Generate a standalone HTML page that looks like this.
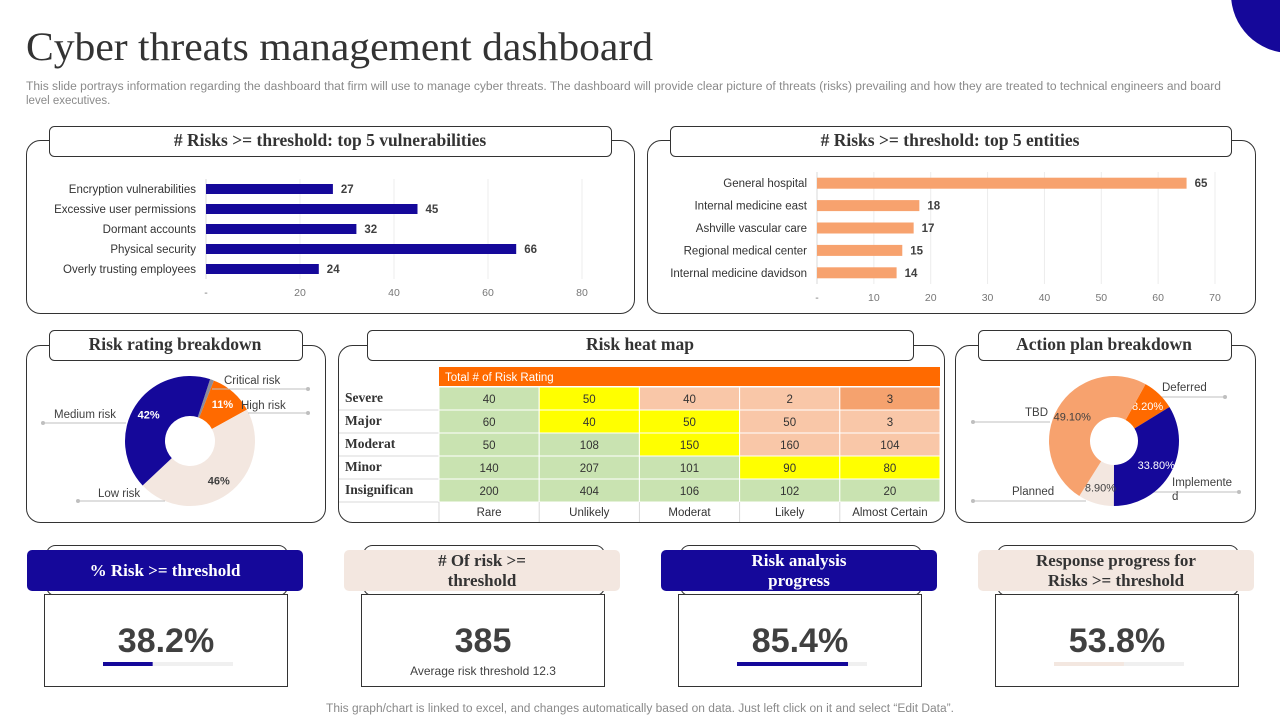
<!DOCTYPE html>
<html><head><meta charset="utf-8"><style>
html,body{margin:0;padding:0;background:#fff;}
svg{display:block;font-family:"Liberation Sans",sans-serif;}
.ser{font-family:"Liberation Serif",serif;font-weight:bold;}
</style></head><body>
<svg id="s" width="1280" height="720" viewBox="0 0 1280 720">
<circle cx="1290" cy="-6" r="59" fill="#15089A"/>
<text x="26" y="60" font-family="Liberation Serif,serif" font-size="40" fill="#333" textLength="627" lengthAdjust="spacingAndGlyphs">Cyber threats management dashboard</text>
<text x="26" y="90" font-size="11.5" fill="#8a8a8a" textLength="1195" lengthAdjust="spacingAndGlyphs">This slide portrays information regarding the dashboard that firm will use to manage cyber threats. The dashboard will provide clear picture of threats (risks) prevailing and how they are treated to technical engineers and board</text>
<text x="26" y="104" font-size="11.5" fill="#8a8a8a">level executives.</text>

<g fill="#fff" stroke="#333" stroke-width="1">
<rect x="26.5" y="140.5" width="608" height="173" rx="14"/>
<rect x="647.5" y="140.5" width="608" height="173" rx="14"/>
<rect x="26.5" y="345.5" width="299" height="177" rx="14"/>
<rect x="338.5" y="345.5" width="606" height="177" rx="14"/>
<rect x="955.5" y="345.5" width="300" height="177" rx="14"/>
<rect x="49.5" y="126.5" width="562" height="30" rx="5"/>
<rect x="670.5" y="126.5" width="561" height="30" rx="5"/>
<rect x="49.5" y="330.5" width="253" height="30" rx="5"/>
<rect x="367.5" y="330.5" width="546" height="30" rx="5"/>
<rect x="978.5" y="330.5" width="253" height="30" rx="5"/>
</g>
<g class="ser" font-size="17.5" fill="#333" text-anchor="middle">
<text x="330" y="146"># Risks &gt;= threshold: top 5 vulnerabilities</text>
<text x="950" y="146"># Risks &gt;= threshold: top 5 entities</text>
<text x="175" y="350">Risk rating breakdown</text>
<text x="640" y="350">Risk heat map</text>
<text x="1104" y="350">Action plan breakdown</text>
</g>
<g id="bars1"></g><g id="bars2"></g><g id="heat"></g><g id="d1"></g><g id="d2"></g><g id="kpi"></g>
<text x="640" y="712" text-anchor="middle" font-size="11.5" fill="#8a8a8a" textLength="628" lengthAdjust="spacingAndGlyphs">This graph/chart is linked to excel,  and changes automatically based on data. Just left click on it and select “Edit Data”.</text>
</svg>
<script>
const vulnCats=["Encryption vulnerabilities","Excessive user permissions","Dormant accounts","Physical security","Overly trusting employees"];
const vulnVals=[27,45,32,66,24];
const vulnTicks=["-","20","40","60","80"];
const entCats=["General hospital","Internal medicine east","Ashville vascular care","Regional medical center","Internal medicine davidson"];
const entVals=[65,18,17,15,14];
const entTicks=["-","10","20","30","40","50","60","70"];
const heatRows=["Severe","Major","Moderat","Minor","Insignifican"];
const heatCols=["Rare","Unlikely","Moderat","Likely","Almost Certain"];
const heatVals=[[40,50,40,2,3],[60,40,50,50,3],[50,108,150,160,104],[140,207,101,90,80],[200,404,106,102,20]];
const heatLevels=[["g","y","o","o","d"],["g","y","y","o","o"],["g","g","y","o","o"],["g","g","g","y","y"],["g","g","g","g","g"]];
const ratingCats=["Critical risk","High risk","Low risk","Medium risk"];
const ratingVals=[1,11,46,42];
const ratingLabels=["","11%","46%","42%"];
const planCats=["Deferred","Implemented","Planned","TBD"];
const planVals=[8.2,33.8,8.9,49.1];
const kpiTitles=[["% Risk >= threshold"],["# Of risk >=","threshold"],["Risk analysis","progress"],["Response progress for","Risks >= threshold"]];
const kpiValues=["38.2%","385","85.4%","53.8%"];
const kpiProgress=[38.2,null,85.4,53.8];

const NS="http://www.w3.org/2000/svg";
function mk(p,tag,at,txt){const e=document.createElementNS(NS,tag);for(const k in at)e.setAttribute(k,at[k]);if(txt!=null)e.textContent=txt;p.appendChild(e);return e;}

function barChart(gid,cats,vals,ticks,max,x0,x1,yTop,yBot,labelY,color,barH,nm){
  const g=document.getElementById(gid);
  const xs=v=>x0+(x1-x0)*v/max;
  const step=max/(ticks.length-1);
  ticks.forEach((t,i)=>{
    const l=mk(g,"line",{x1:xs(i*step),x2:xs(i*step),y1:yTop,y2:yBot,stroke:"#ececec"});
    
    
    const tx=mk(g,"text",{x:xs(i*step),y:labelY,"text-anchor":"middle","font-size":"10.5",fill:"#777"},t);
    
    
  });
  const ax=mk(g,"line",{x1:x0,x2:x0,y1:yTop,y2:yBot,stroke:"#d9d9d9"});
  
  
  const band=(yBot-yTop)/cats.length;
  cats.forEach((c,i)=>{
    const cy=yTop+band*(i+0.5);
    const r=mk(g,"rect",{x:x0,y:cy-barH/2,width:xs(vals[i])-x0,height:barH,fill:color});
    
    
    const lb=mk(g,"text",{x:x0-10,y:cy+4,"text-anchor":"end","font-size":"11.5",fill:"#333"},c);
    
    
    const vl=mk(g,"text",{x:xs(vals[i])+8,y:cy+4,"font-size":"11.5","font-weight":"bold",fill:"#404040"},vals[i]);
    
    
  });
}
barChart("bars1",vulnCats,vulnVals,vulnTicks,80,206,582,179,279,296,"#15089A",10,"vulnerability");
barChart("bars2",entCats,entVals,entTicks,70,817,1215,172,284,301,"#F7A26E",11,"entity");

// heat map
(function(){
  const g=document.getElementById("heat");
  const colors={g:"#C9E3B1",y:"#FFFF00",o:"#F9C7A8",d:"#F5A26E"};
  const x0=439,cw=100.2,y0=387,rh=23;
  const hb=mk(g,"rect",{x:x0,y:367,width:501,height:19,fill:"#FF6A00"});
  
  
  const ht=mk(g,"text",{x:445,y:381,"font-size":"11.5",fill:"#fff"},"Total # of Risk Rating");
  
  
  heatRows.forEach((r,i)=>{
    const y=y0+i*rh;
    const bl=mk(g,"line",{x1:339,x2:439,y1:y+rh,y2:y+rh,stroke:"#d9d9d9"});
    
    
    const rl=mk(g,"text",{x:345,y:y+15,"font-size":"13.5","font-family":"Liberation Serif,serif","font-weight":"bold",fill:"#333"},r);
    
    
    heatCols.forEach((c,j)=>{
      const cell=mk(g,"rect",{x:x0+j*cw,y:y,width:cw,height:rh,fill:colors[heatLevels[i][j]],stroke:"#fff","stroke-width":"1"});
      
      
      const ct=mk(g,"text",{x:x0+j*cw+cw/2,y:y+16,"text-anchor":"middle","font-size":"11.5",fill:"#333"},heatVals[i][j]);
      
      
    });
  });
  heatCols.forEach((c,j)=>{
    const yb=y0+5*rh;
    const dl=mk(g,"line",{x1:x0+j*cw,x2:x0+j*cw,y1:yb,y2:yb+20,stroke:"#d9d9d9"});
    
    
    const cl=mk(g,"text",{x:x0+j*cw+cw/2,y:yb+14,"text-anchor":"middle","font-size":"11.5",fill:"#333"},c);
    
    
  });
})();

function arcPath(cx,cy,R,r,a0,a1){
  const p=(rad,a)=>[cx+rad*Math.sin(a),cy-rad*Math.cos(a)];
  const lg=(a1-a0)>Math.PI?1:0;
  const [x1,y1]=p(R,a0),[x2,y2]=p(R,a1),[x3,y3]=p(r,a1),[x4,y4]=p(r,a0);
  return `M${x1},${y1}A${R},${R} 0 ${lg} 1 ${x2},${y2}L${x3},${y3}A${r},${r} 0 ${lg} 0 ${x4},${y4}Z`;
}
function donut(gid,vals,colors,labels,labelColors,startDeg,cx,cy,R,r,nm){
  const g=document.getElementById(gid);
  const tot=vals.reduce((a,b)=>a+b,0);
  let a=startDeg*Math.PI/180;
  vals.forEach((v,i)=>{
    const da=v/tot*2*Math.PI;
    const p=mk(g,"path",{d:arcPath(cx,cy,R,r,a,a+da),fill:colors[i]});
    
    
    if(labels[i]){
      const m=a+da/2,lr=(R+r)/2+4;
      const t=mk(g,"text",{x:cx+lr*Math.sin(m),y:cy-lr*Math.cos(m)+4,"text-anchor":"middle","font-size":"11",fill:labelColors[i]},labels[i]);
      
      
    }
    a+=da;
  });
}
donut("d1",ratingVals,["#8c8c9c","#FF6A00","#F3E7E0","#15089A"],ratingLabels,["#fff","#fff","#404040","#fff"],18,190,441,65,25,"rating");
document.querySelectorAll("#d1 text").forEach(t=>t.setAttribute("font-weight","bold"));
const planLabels=planVals.map(v=>v.toFixed(2)+"%");
donut("d2",planVals,["#FF6A00","#15089A","#F3E7E0","#F7A26E"],planLabels,["#fff","#fff","#404040","#404040"],29,1114,441,65,24,"plan");

(function(){
  const g=document.getElementById("d1");
  const items=[["Critical risk",224,384,[[212,389],[308,389]],308,389],["High risk",241,409,[[248,413],[308,413]],308,413],["Medium risk",54,418,[[43,423],[126,423]],43,423],["Low risk",98,497,[[78,501],[165,501]],78,501],
    ["Deferred",1162,391,[[1158,397],[1225,397]],1225,397],["TBD",1025,416,[[973,422],[1050,422]],973,422],["Planned",1012,495,[[973,501],[1086,501]],973,501],["Implemente",1172,486,[[1150,492],[1239,492]],1239,492]];
  items.forEach(it=>{
    const l=mk(g,"line",{x1:it[3][0][0],y1:it[3][0][1],x2:it[3][1][0],y2:it[3][1][1],stroke:"#bfbfbf"});
    
    
    const d=mk(g,"circle",{cx:it[4],cy:it[5],r:2,fill:"#bfbfbf"});
    
    
    const t=mk(g,"text",{x:it[1],y:it[2],"font-size":"11.5",fill:"#404040"},it[0]);
    
    
  });
  const t2=mk(g,"text",{x:1172,y:500,"font-size":"11.5",fill:"#404040"},"d");
  
  
})();

(function(){
  const g=document.getElementById("kpi");
  const pillX=[27,344,661,978],boxX=[44,361,678,995];
  const pillFill=["#15089A","#F3E7E0","#15089A","#F3E7E0"],pillText=["#fff","#333","#fff","#333"];
  kpiValues.forEach((v,i)=>{
    const o=mk(g,"rect",{x:boxX[i]+2.5,y:545.5,width:241,height:50,rx:9,fill:"none",stroke:"#333"});
    
    
    const p=mk(g,"rect",{x:pillX[i],y:550,width:276,height:41,rx:5,fill:pillFill[i]});
    
    
    const lines=kpiTitles[i];
    lines.forEach((ln,k)=>{
      const t=mk(g,"text",{x:pillX[i]+138,y:(lines.length===1?576:566+k*20),"text-anchor":"middle","font-size":"17",class:"ser",fill:pillText[i]},ln);
      
      
    });
    const b=mk(g,"rect",{x:boxX[i]+0.5,y:594.5,width:243,height:92,fill:"#fff",stroke:"#333"});
    
    
    const vt=mk(g,"text",{x:boxX[i]+122,y:652,"text-anchor":"middle","font-size":"34","font-weight":"bold",fill:"#404040"},v);
    
    
    if(kpiProgress[i]!=null){
      const bx=boxX[i]+59,bw=130;
      const tr=mk(g,"rect",{x:bx,y:662,width:bw,height:4,fill:"#f0f0f0"});
      
      
      const f=mk(g,"rect",{x:bx,y:662,width:bw*kpiProgress[i]/100,height:4,fill:pillFill[i]==="#15089A"?"#15089A":"#F3E7E0"});
      
      
    } else {
      const s=mk(g,"text",{x:boxX[i]+122,y:675,"text-anchor":"middle","font-size":"12",fill:"#404040"},"Average  risk threshold  12.3");
      
      
    }
  });
})();
</script>
</body></html>
